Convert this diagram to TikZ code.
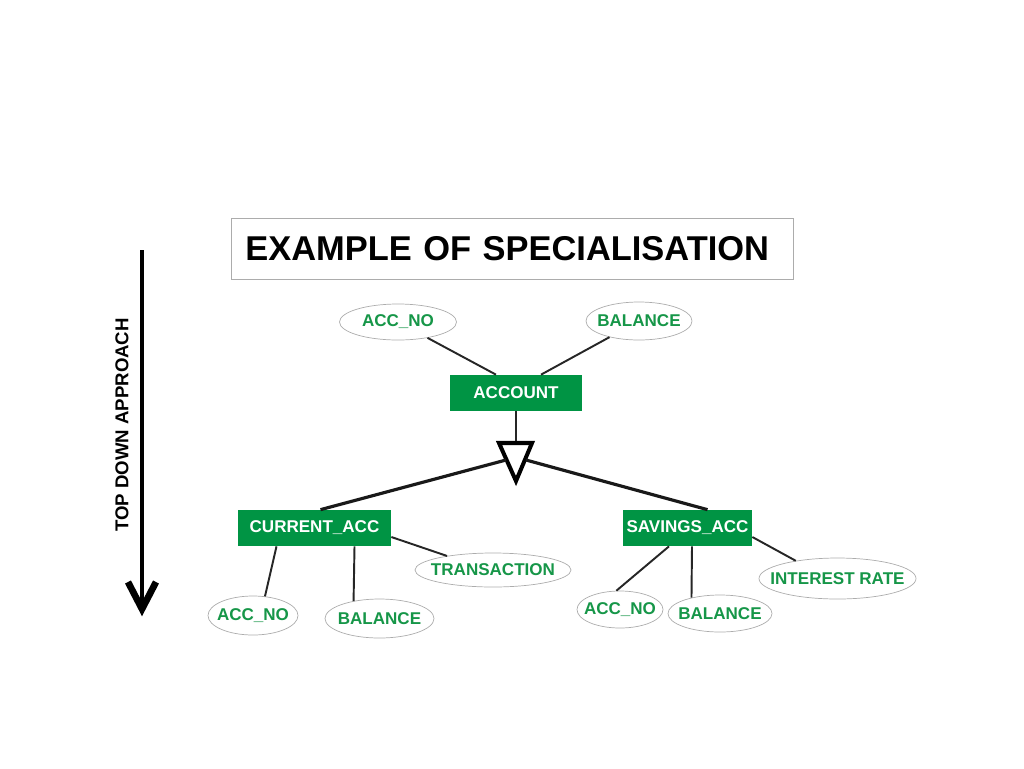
\documentclass[tikz,border=0pt]{standalone}
\usepackage{fontspec}
\setmainfont{Liberation Sans}
\usetikzlibrary{shapes.geometric,calc}

\newdimen\pxu \pxu=0.02cm
\definecolor{entity green}{RGB}{0,148,68}
\definecolor{attr green}{RGB}{22,150,72}
\colorlet{attr edge}{gray!65}
\def\labelfont{\bfseries\fontsize{9.7}{11}\selectfont}
\tikzset{entity/.style={fill=entity green, text=white, font=\labelfont,
        minimum height=36\pxu, inner sep=0pt},
    attr/.style={ellipse, draw=attr edge, line width=0.4pt, text=attr green,
        font=\labelfont, inner xsep=-13\pxu, inner ysep=0pt},
    link/.style={draw=black!85, line width=1.1pt},
    isalink/.style={draw=black!90, line width=1.8pt}}

\begin{document}
\begin{tikzpicture}[x=0.02cm,y=-0.02cm]
  \useasboundingbox (0,0) rectangle (1024,768);
  \node[draw=attr edge, line width=0.5pt, anchor=west, inner xsep=14\pxu, inner ysep=0pt,
        text width=534\pxu, minimum height=61\pxu, align=left,
        font=\bfseries\fontsize{19.6}{22}\selectfont] (title) at (231,248.5)
        {EXAMPLE OF SPECIALISATION};
  % top down arrow
  \coordinate (arrtop) at (142,250);
  \coordinate (arrtip) at (142,609);
  \draw[line width=1.8pt] (arrtop) -- (arrtip);
  \draw[line width=3.8pt, line join=miter] ($(arrtip)+(-14,-27)$) -- (arrtip) -- ($(arrtip)+(14,-27)$);
  \node[rotate=90, font=\bfseries\fontsize{10.6}{12}\selectfont] (approach) at (122,425) {TOP DOWN APPROACH};

  % superclass
  \node[entity, minimum width=132\pxu] (account) at (516,393) {ACCOUNT};
  \node[attr, minimum width=117\pxu, minimum height=36\pxu] (accno) at (398,322) {ACC\_NO};
  \node[attr, minimum width=106\pxu, minimum height=38\pxu] (balance) at (639,321) {BALANCE};
  \draw[link] (accno) -- ([xshift=-20\pxu]account.north);
  \draw[link] (balance) -- ([xshift=25\pxu]account.north);

  % subclasses
  \node[entity, minimum width=153\pxu] (cur) at (314.5,528) {CURRENT\_ACC};
  \node[entity, minimum width=129\pxu] (sav) at (687.5,528) {SAVINGS\_ACC};

  % specialisation triangle
  \coordinate (isa) at (516,443);
  \draw[link] (account.south) -- (isa);
  \draw[line width=2.3pt, line join=miter] ($(isa)+(-17,0)$) -- ($(isa)+(16,0)$) -- ($(isa)+(0,38)$) -- cycle;
  \draw[isalink] ($(isa)+(-10,17)$) -- ([xshift=6\pxu]cur.north);
  \draw[isalink] ($(isa)+(10,17)$) -- ([xshift=20\pxu]sav.north);

  % current account attributes
  \node[attr, minimum width=90\pxu, minimum height=39\pxu] (cno) at (253,615.5) {ACC\_NO};
  \node[attr, minimum width=109\pxu, minimum height=39\pxu] (cbal) at (379.5,618.5) {BALANCE};
  \node[attr, minimum width=156\pxu, minimum height=34\pxu] (ctrans) at (493,570) {TRANSACTION};
  \draw[link] ([xshift=-38\pxu]cur.south) -- (cno.58);
  \draw[link] ([xshift=40\pxu]cur.south) -- (cbal.146);
  \draw[link] ([yshift=-9\pxu]cur.east) -- (ctrans.163);

  % savings account attributes
  \node[attr, minimum width=86\pxu, minimum height=37\pxu] (sno) at (620,609.5) {ACC\_NO};
  \node[attr, minimum width=104\pxu, minimum height=37\pxu] (sbal) at (720,613.5) {BALANCE};
  \node[attr, minimum width=157\pxu, minimum height=41\pxu] (sint) at (837.5,578.5) {INTEREST RATE};
  \draw[link] ([xshift=-18.5\pxu]sav.south) -- (sno.101);
  \draw[link] ([xshift=4.5\pxu]sav.south) -- (sbal.151);
  \draw[link] ([yshift=-9\pxu]sav.east) -- (sint.157);
\end{tikzpicture}
\end{document}
